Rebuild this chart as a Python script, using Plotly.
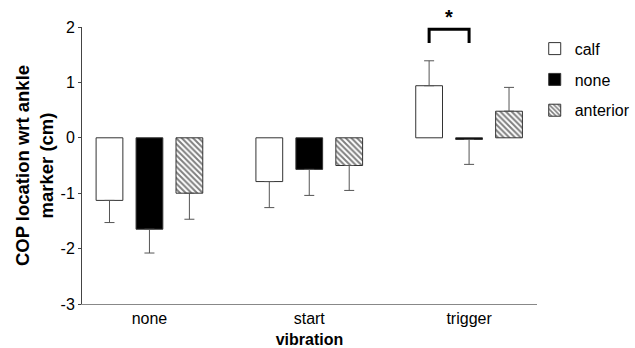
import plotly.graph_objects as go

categories = ["none", "start", "trigger"]
series_names = ["calf", "none", "anterior"]
calf_vals = [-1.13, -0.79, 0.94]
none_vals = [-1.65, -0.57, -0.03]
anterior_vals = [-1.00, -0.50, 0.48]
calf_err = [0.40, 0.47, 0.45]
none_err = [0.43, 0.47, 0.45]
anterior_err = [0.47, 0.45, 0.43]
y_ticks = [-3, -2, -1, 0, 1, 2]
y_tick_labels = ["-3", "-2", "-1", "0", "1", "2"]

FONT = "Liberation Sans, Arial, sans-serif"

def err_arrays(vals, errs):
    plus = [e if v > 0 else 0 for v, e in zip(vals, errs)]
    minus = [e if v <= 0 else 0 for v, e in zip(vals, errs)]
    return plus, minus

styles = [
    dict(color="white", pattern=None),
    dict(color="black", pattern=None),
    dict(color="white", pattern=dict(shape="\\", fgcolor="black", bgcolor="white", size=4, solidity=0.5)),
]

fig = go.Figure()
for name, vals, errs, st in zip(series_names, [calf_vals, none_vals, anterior_vals],
                                [calf_err, none_err, anterior_err], styles):
    plus, minus = err_arrays(vals, errs)
    marker = dict(color=st["color"], line=dict(color="#333", width=1))
    if st["pattern"]:
        marker["pattern"] = st["pattern"]
    fig.add_trace(go.Bar(
        x=list(range(len(categories))), y=vals, name=name, legendgroup=name,
        marker=marker,
        error_y=dict(type="data", symmetric=False, array=plus, arrayminus=minus,
                     color="#555", thickness=1, width=5),
    ))

# significance bracket between calf and none at trigger
bx0, bx1 = 2 - 0.25, 2.0
by_top, by_bot = 1.96, 1.71
fig.add_shape(type="path", xref="x", yref="y",
              path=f"M {bx0},{by_bot} L {bx0},{by_top} L {bx1},{by_top} L {bx1},{by_bot}",
              line=dict(color="black", width=3))
fig.add_annotation(x=(bx0 + bx1) / 2, y=1.037, xref="x", yref="paper", text="<b>*</b>",
                   showarrow=False, font=dict(family=FONT, size=20, color="black"),
                   yanchor="middle")

fig.update_layout(
    width=635, height=348,
    margin=dict(l=82, r=98, t=27, b=44, autoexpand=False),
    paper_bgcolor="white", plot_bgcolor="white",
    barmode="group", bargap=0.25, bargroupgap=0.33,
    font=dict(family=FONT, size=16, color="black"),
    legend=dict(x=0.995, y=0.983, xanchor="left", yanchor="top",
                font=dict(family=FONT, size=16), tracegroupgap=7,
                itemwidth=30, borderwidth=0, bgcolor="rgba(0,0,0,0)"),
    showlegend=True,
)
fig.update_xaxes(
    tickmode="array", tickvals=list(range(len(categories))), ticktext=categories,
    range=[-0.422, 2.425], showline=True, linecolor="#888", linewidth=1,
    ticks="", showgrid=False, zeroline=False,
    title=dict(text="<b>vibration</b>", font=dict(family=FONT, size=16), standoff=8),
    tickfont=dict(family=FONT, size=16),
)
fig.update_yaxes(
    range=[-3, 2], tickmode="array", tickvals=y_ticks, ticktext=y_tick_labels,
    showline=True, linecolor="#444",
    linewidth=1, ticks="outside", ticklen=3, tickcolor="#444", showgrid=False, zeroline=False,
    title=dict(text="<b>COP location wrt ankle<br>marker (cm)</b>", font=dict(family=FONT, size=18.5), standoff=2),
    tickfont=dict(family=FONT, size=16),
)

fig.write_html("out.html")
